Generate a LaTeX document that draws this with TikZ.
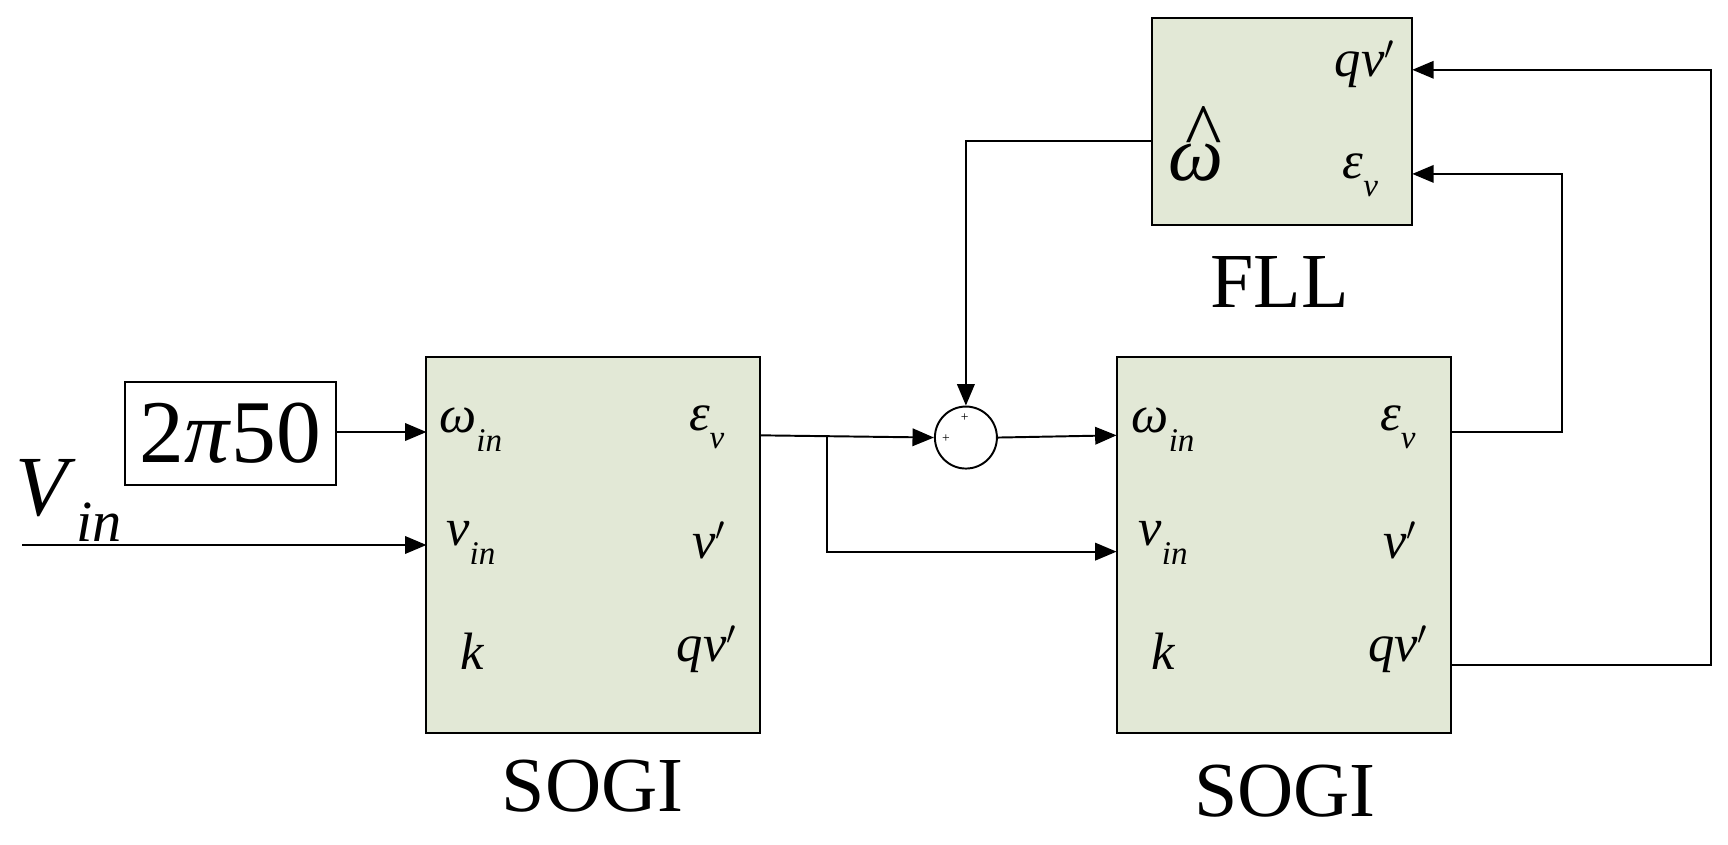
\documentclass[tikz,border=0pt]{standalone}
\usepackage{fontspec}
\setmainfont{Liberation Serif}
\usetikzlibrary{arrows.meta}
\definecolor{blk}{RGB}{226,232,214}
\newcommand{\sub}[1]{\raisebox{-0.35em}{\fontsize{17}{18}\selectfont\textit{#1}}}
\begin{document}
\begin{tikzpicture}[x=0.02cm,y=-0.02cm,
  box/.style={draw,line width=1pt,fill=blk,inner sep=0},
  lab/.style={font=\fontsize{27}{29}\selectfont},
  big/.style={font=\fontsize{40}{44}\selectfont},
  ln/.style={line width=1pt},
  ar/.style={ln,-{Triangle[length=11pt,width=9pt]}}]
\useasboundingbox (0,0) rectangle (1560,762);
% boxes
\path[box] (385,322) rectangle (686,662);
\path[box] (1008,322) rectangle (1310,662);
\path[box] (1040,16) rectangle (1275,203);
\draw[line width=1pt,fill=white] (113,345) rectangle (303,438);
\node[font=\fontsize{46}{50}\selectfont] (k) at (208,391) {2\textit{π}50};
\coordinate (kout) at (303,390);
\coordinate (s1w) at (385,390);
\coordinate (s1v) at (385,492);
\coordinate (s1e) at (686,393);
\coordinate (br) at (747,393);
\coordinate (s2w) at (1008,393);
\coordinate (s2v) at (1008,498);
\coordinate (s2e) at (1310,390);
\coordinate (s2q) at (1310,600);
\coordinate (fq) at (1275,63);
\coordinate (fe) at (1275,157);
\coordinate (fw) at (1040,127);
\coordinate (vin) at (20,492);
\node[draw,circle,line width=1pt,fill=white,inner sep=0,minimum size=1.12cm] (sum) at (872,395) {};
\node[font=\scriptsize] at (871,377) {+};
\node[font=\scriptsize] at (854,396) {+};
% labels SOGI1
\node[lab] at (425,388) {\textit{ω}\sub{in}};
\node[lab] at (638,386) {\textit{ε}\sub{v}};
\node[lab] at (425,490) {\textit{v}\sub{in}};
\node[lab] at (640,488) {\textit{v}$'$};
\node[lab] at (427,588) {\textit{k}};
\node[lab] at (638,586) {\textit{qv}$'$};
\node[big] at (535,710) {SOGI};
% labels SOGI2
\node[lab] at (1050,388) {\textit{ω}\sub{in}};
\node[lab] at (1262,386) {\textit{ε}\sub{v}};
\node[lab] at (1050,490) {\textit{v}\sub{in}};
\node[lab] at (1264,488) {\textit{v}$'$};
\node[lab] at (1050,588) {\textit{k}};
\node[lab] at (1262,586) {\textit{qv}$'$};
\node[big] at (1160,714) {SOGI};
% FLL
\node[lab] at (1232,58) {\textit{qv}$'$};
\node[font=\fontsize{40}{42}\selectfont] at (1080,130) {\rlap{\hspace{0.22em}\raisebox{0.3em}{\^{}}}\textit{ω}};
\node[lab] at (1228,158) {\textit{ε}\sub{v}};
\node[big] at (1155,255) {FLL};
\node[font=\fontsize{44}{46}\selectfont] at (62,452) {\textit{V}\raisebox{-0.3em}{\fontsize{30}{32}\selectfont\textit{in}}};
% connectors
\draw[ar] (kout) -- (s1w);
\draw[ar] (vin) -- (s1v);
\draw[ar] (s1e) -- (sum.west);
\draw[ar] (br) -- (747,498) -- (s2v);
\draw[ar] (sum.east) -- (s2w);
\draw[ar] (fw) -- (872,127) -- (sum.north);
\draw[ar] (s2e) -- (1410,390) -- (1410,157) -- (fe);
\draw[ar] (s2q) -- (1545,600) -- (1545,63) -- (fq);
\end{tikzpicture}
\end{document}
